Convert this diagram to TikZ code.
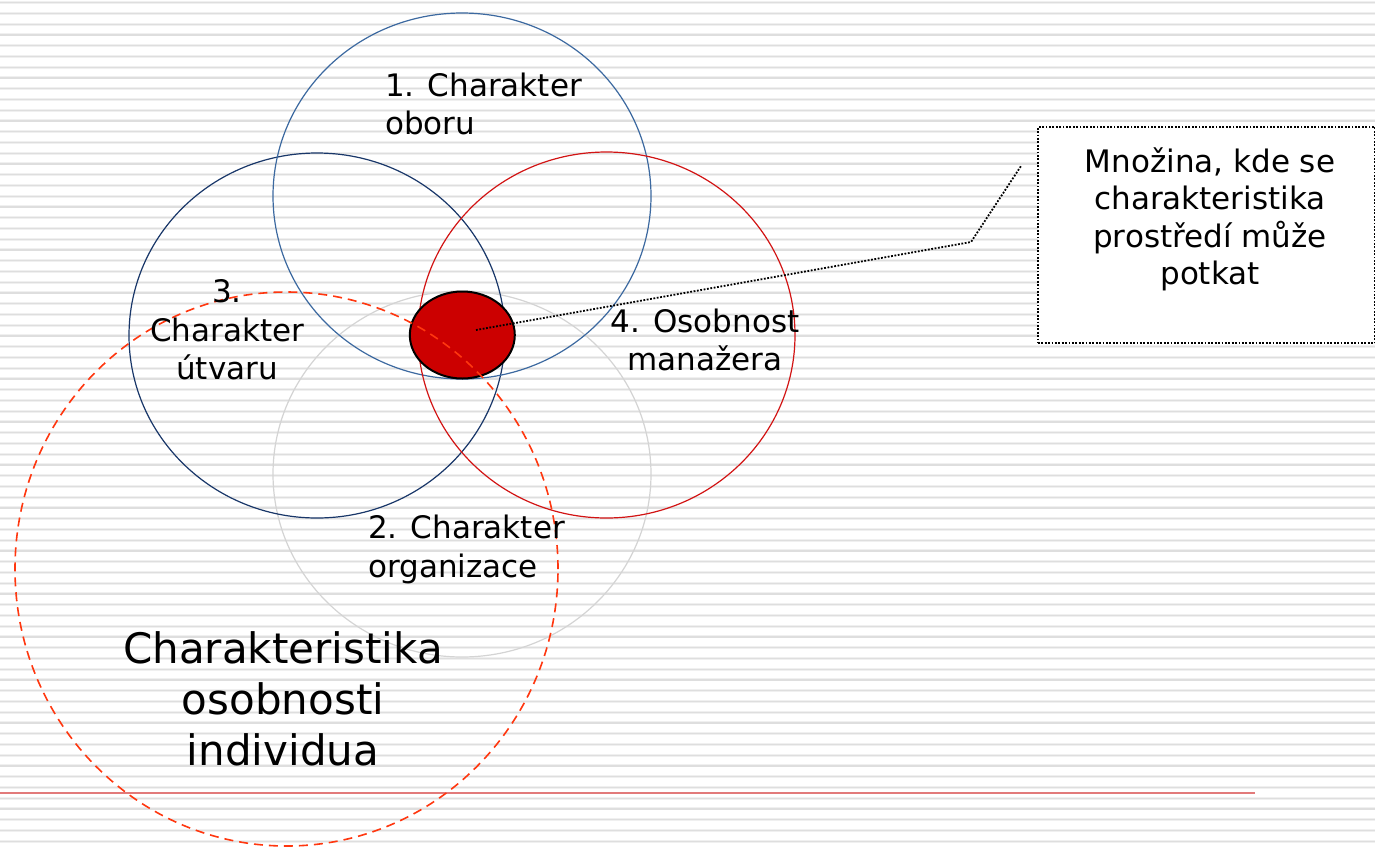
\documentclass[tikz,border=0pt]{standalone}
\usepackage{fontspec}
\setmainfont{DejaVu Sans}
\usetikzlibrary{shapes.geometric}
\definecolor{stripeA}{RGB}{240,240,240}
\definecolor{stripeB}{RGB}{222,222,222}
\definecolor{cblue}{RGB}{60,105,160}
\definecolor{cnavy}{RGB}{25,55,105}
\definecolor{cred}{RGB}{210,20,20}
\definecolor{cgray}{RGB}{212,212,212}
\definecolor{cdash}{RGB}{255,55,15}
\definecolor{blob}{RGB}{204,0,0}
\definecolor{rulered}{RGB}{226,122,122}
\begin{document}
\begin{tikzpicture}[x=1pt,y=-1pt,
  lbl/.style={inner sep=0pt, font=\fontsize{31}{38.5}\selectfont, text=black},
  biglbl/.style={inner sep=0pt, font=\fontsize{42}{51}\selectfont, text=black},
  ring/.style={line width=1.2pt},
  leader/.style={line width=1.8pt, dash pattern=on 1.8pt off 1.6pt},
  notebox/.style={draw=black, fill=white, line width=1.8pt, dash pattern=on 1.8pt off 1.6pt, inner sep=0pt, anchor=north west}
]
\useasboundingbox (0,0) rectangle (1375,847);
\fill[white] (0,0) rectangle (1375,847);
% background stripes
\foreach \i in {0,...,78}{
  \draw[line width=3pt, stripeA] (0,2.7+\i*10.75) -- (1375,2.7+\i*10.75);
  \draw[line width=1.3pt, stripeB] (0,2.7+\i*10.75) -- (1375,2.7+\i*10.75);
}
% bottom rule
\draw[line width=2pt, rulered] (0,793) -- (1255,793);

% circles
\coordinate (c2) at (462,474);
\coordinate (c3) at (317,335.5);
\coordinate (c1) at (462,196);
\coordinate (c4) at (606.5,335);
\coordinate (cd) at (286.5,569);
\draw[ring, cgray] (c2) ellipse [x radius=189pt, y radius=183pt];
\draw[ring, cnavy] (c3) ellipse [x radius=188pt, y radius=182.5pt];
\draw[ring, cblue] (c1) ellipse [x radius=189pt, y radius=183pt];
\draw[ring, cred] (c4) ellipse [x radius=188.5pt, y radius=183pt];

% intersection set
\node[ellipse, draw=black, line width=2pt, fill=blob, minimum width=105pt, minimum height=87pt, inner sep=0pt] (set) at (462.3,335) {};

% dashed individual circle
\draw[cdash, line width=1.6pt, dash pattern=on 9pt off 6pt] (cd) ellipse [x radius=271.5pt, y radius=277pt];

% note box
\node[notebox, minimum width=337pt, minimum height=216pt] (note) at (1037,126) {};
\node[lbl, align=center, anchor=north, font=\fontsize{31}{37.5}\selectfont] (notetext) at (1210,147) {Množina, kde se\\charakteristika\\prostředí může\\potkat};

% leader
\coordinate (ls) at (476,330);
\coordinate (lk) at (971,242);
\coordinate (le) at (1021,166);
\draw[leader] (ls) -- (lk) -- (le);

% labels
\node[lbl, align=left, anchor=north west] (t1) at (385,72.5) {1. Charakter\\oboru};
\node[lbl, align=center, anchor=north] (t3) at (227,279.4) {3.\\Charakter\\útvaru};
\node[lbl, align=center, anchor=north] (t4) at (705,308.4) {4. Osobnost\\manažera};
\node[lbl, align=left, anchor=north west] (t2) at (368,515) {2. Charakter\\organizace};
\node[biglbl, align=center, anchor=north] (tind) at (283,631) {Charakteristika\\osobnosti\\individua};
\end{tikzpicture}
\end{document}
